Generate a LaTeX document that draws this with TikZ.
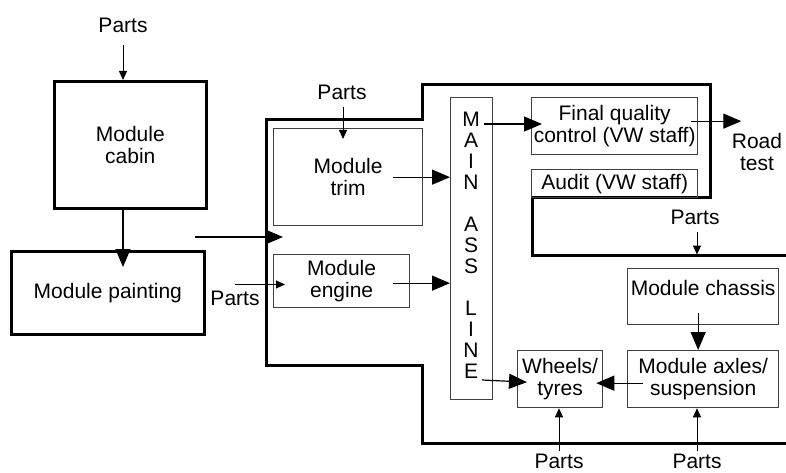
\documentclass[tikz,border=0pt]{standalone}
\usepackage{fontspec}
\setmainfont{Liberation Sans}
\usetikzlibrary{arrows.meta,calc}
\begin{document}
\begin{tikzpicture}[x=1pt,y=-1pt,
  lbl/.style={font=\fontsize{21}{21.5}\selectfont, align=center, inner sep=3pt},
  thickbox/.style={lbl, draw=black, line width=2.6pt, inner xsep=1pt},
  box/.style={lbl, draw=black!75, line width=1.3pt, inner xsep=0.5pt},
  outline/.style={draw=black, line width=3pt},
  big/.style={-{Triangle[length=18pt,width=15pt]}, line width=1.2pt},
  small/.style={-{Triangle[length=9pt,width=8pt]}, line width=1pt}]
\useasboundingbox (0,0) rectangle (786,473);

% outline of main hall
\draw[outline] (786,255) -- (532,255) -- (532,197) -- (710,197) -- (710,85) -- (422,85) -- (422,120) -- (266,120) -- (266,365) -- (422,365) -- (422,443) -- (786,443);

% boxes
\node[thickbox, anchor=north west, minimum width=152pt, minimum height=127pt] (cabin) at (53,80) {Module\\cabin};
\node[thickbox, anchor=north west, minimum width=193pt, minimum height=83pt] (painting) at (10,250) {Module painting};
\node[box, anchor=north west, minimum width=149pt, minimum height=97pt] (trim) at (273,128) {Module\\trim};
\node[box, anchor=north west, minimum width=136pt, minimum height=53pt] (engine) at (273,254) {Module\\engine};
\node[box, anchor=north west, minimum width=42pt, minimum height=302pt] (main) at (450,97) {};
\node[box, anchor=north west, minimum width=166pt, minimum height=57pt] (final) at (531,97) {Final quality\\control (VW staff)};
\node[box, anchor=north west, minimum width=166pt, minimum height=28pt] (audit) at (531,169) {Audit (VW staff)};
\node[box, anchor=north west, minimum width=151pt, inner ysep=0pt, text height=26.5pt, text depth=29.5pt] (chassis) at (627,268) {Module chassis};
\node[box, anchor=north west, minimum width=85pt, minimum height=57pt] (wheels) at (517,350) {Wheels/\\tyres};
\node[box, anchor=north west, minimum width=151pt, minimum height=57pt] (axles) at (627,350) {Module axles/\\suspension};

% main line letters
\foreach \l/\y [count=\i] in {M/119,A/140,I/161,N/182,A/224,S/245,S/266,L/308,I/329,N/350,E/371}
  \node[lbl] (ml\i) at (471,\y) {\l};

% labels
\node[lbl] (partsA) at (123,25) {Parts};
\node[lbl] (partsT) at (342,92) {Parts};
\node[lbl] (partsE) at (235,298) {Parts};
\node[lbl] (partsR) at (695,217) {Parts};
\node[lbl] (partsW) at (559,461) {Parts};
\node[lbl] (partsX) at (697,461) {Parts};
\node[lbl] (road) at (757,152) {Road\\test};

% connectors
\draw[small] ($(partsA.south)+(0,9)$) -- (partsA.south |- cabin.north);
\draw[big] (partsA.south |- cabin.south) -- ($(partsA.south |- painting.north)+(0,17)$);
\coordinate (inA) at (195,237);
\coordinate (inB) at (283,237);
\draw[big] (inA) -- (inB);
\draw[small] ($(partsT.south)+(1,4)$) -- ($(partsT.south |- trim.north)+(1,11)$);
\draw[big] ($(trim.east)+(-30,0)$) -- (trim.east -| main.west);
\draw[small] ($(partsE.north)+(0,-3)$) -- ($(engine.west |- partsE.north)+(12,-3)$);
\draw[big] ($(engine.east)+(-17,2)$) -- ($(engine.east -| main.west)+(0,2)$);
\draw[big] ($(ml1.east)+(1,5)$) -- ($(final.west |- ml1.east)+(11,5)$);
\draw[big] ($(final.east)+(-7,-5)$) -- ($(final.east)+(43,-5)$);
\draw[small] ($(partsR.south)+(2,4)$) -- ($(partsR.south)+(2,27)$);
\draw[big] ($(chassis.south)+(-5,-12)$) -- ($(axles.north)+(-5,0)$);
\draw[big] ($(axles.west)+(16,4)$) -- ($(wheels.east)+(-7,4)$);
\draw[big] ($(ml11.east)+(1,9)$) -- ($(wheels.west)+(10,3)$);
\draw[small] ($(partsW.north)+(0,1)$) -- (partsW.north |- wheels.south);
\draw[small] ($(partsX.north)+(0,1)$) -- (partsX.north |- axles.south);
\end{tikzpicture}
\end{document}
